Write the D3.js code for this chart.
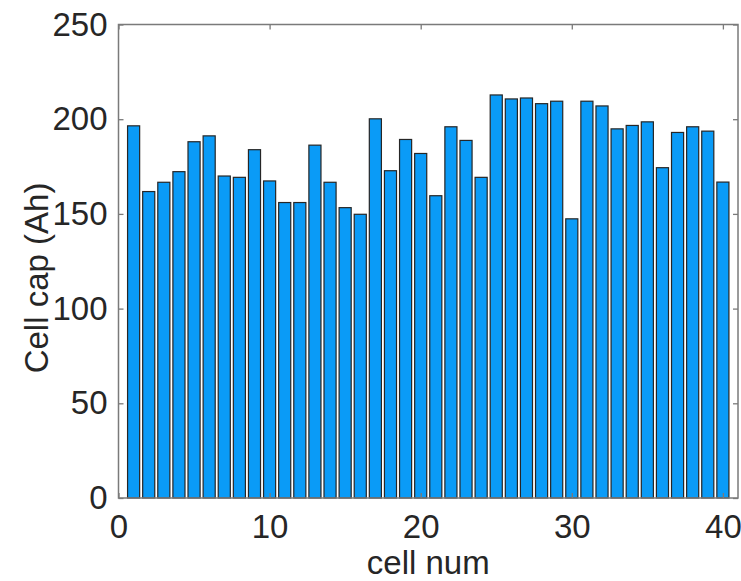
<!DOCTYPE html>
<html>
<head>
<meta charset="utf-8">
<script src="https://cdn.jsdelivr.net/npm/d3@7"></script>
<style>
  html, body { margin: 0; padding: 0; background: #fff; }
  svg text { font-family: "Liberation Sans", Arial, Helvetica, sans-serif; fill: #262626; }
</style>
</head>
<body>
<svg id="chart" width="741" height="581"></svg>
<script>
// Measured capacity of each cell in the pack (Ah)
const cellNums = d3.range(1, 41);
const cellCaps = [
  196.5, 161.8, 166.7, 172.3, 188.1, 191.2, 170.0, 169.3, 183.9, 167.4,
  156.0, 156.0, 186.3, 166.7, 153.3, 149.8, 200.2, 172.8, 189.3, 181.9,
  159.6, 196.0, 188.8, 169.3, 212.8, 210.7, 211.2, 208.2, 209.5, 147.4,
  209.5, 207.0, 194.9, 196.7, 198.6, 174.4, 193.0, 196.0, 193.7, 166.8
];
const xTicks = [0, 10, 20, 30, 40];
const yTicks = [0, 50, 100, 150, 200, 250];
const xLabel = "cell num";
const yLabel = "Cell cap (Ah)";

const svg = d3.select("#chart");
const fontSize = 33;

const x = d3.scaleLinear().domain([0, 41]).range([118.5, 738]);
const y = d3.scaleLinear().domain([0, 250]).range([498, 24.5]);
const barHalf = 0.4;

// Bars
svg.append("g")
  .selectAll("rect")
  .data(cellNums)
  .join("rect")
  .attr("x", (d) => x(d - barHalf))
  .attr("width", x(barHalf * 2) - x(0))
  .attr("y", (d, i) => y(cellCaps[i]))
  .attr("height", (d, i) => y(0) - y(cellCaps[i]))
  .attr("fill", "#0a9bf7")
  .attr("stroke", "#262626")
  .attr("stroke-width", 1.2);

const axisColor = "#7a7a7a";
const tickLen = 5;

function styleAxis(g) {
  g.select(".domain").remove();
  g.selectAll(".tick line").attr("stroke", axisColor).attr("stroke-width", 1.3);
  g.selectAll(".tick text")
    .attr("font-size", fontSize)
    .attr("fill", "#262626")
    .style("font-family", '"Liberation Sans", Arial, Helvetica, sans-serif');
}

// Bottom axis with inward ticks
svg.append("g")
  .attr("transform", `translate(0,${y(0)})`)
  .call(d3.axisBottom(x).tickValues(xTicks).tickSizeInner(-tickLen).tickSizeOuter(0).tickPadding(17))
  .call(styleAxis);

// Top mirrored ticks
svg.append("g")
  .attr("transform", `translate(0,${y(250)})`)
  .call(d3.axisTop(x).tickValues(xTicks).tickSizeInner(-tickLen).tickSizeOuter(0).tickFormat(""))
  .call(styleAxis);

// Left axis
svg.append("g")
  .attr("transform", `translate(${x(0)},0)`)
  .call(d3.axisLeft(y).tickValues(yTicks).tickSizeInner(-tickLen).tickSizeOuter(0).tickPadding(11))
  .call(styleAxis);

// Right mirrored ticks
svg.append("g")
  .attr("transform", `translate(${x(41)},0)`)
  .call(d3.axisRight(y).tickValues(yTicks).tickSizeInner(-tickLen).tickSizeOuter(0).tickFormat(""))
  .call(styleAxis);

// Axes box
svg.append("rect")
  .attr("x", x(0))
  .attr("y", y(250))
  .attr("width", x(41) - x(0))
  .attr("height", y(0) - y(250))
  .attr("fill", "none")
  .attr("stroke", axisColor)
  .attr("stroke-width", 1.5);

// Axis titles
svg.append("text")
  .attr("x", (x(0) + x(41)) / 2)
  .attr("y", 574)
  .attr("text-anchor", "middle")
  .attr("font-size", fontSize)
  .text(xLabel);

svg.append("text")
  .attr("transform", `translate(36,278) rotate(-90)`)
  .attr("text-anchor", "middle")
  .attr("dominant-baseline", "central")
  .attr("font-size", fontSize)
  .text(yLabel);
</script>
</body>
</html>
